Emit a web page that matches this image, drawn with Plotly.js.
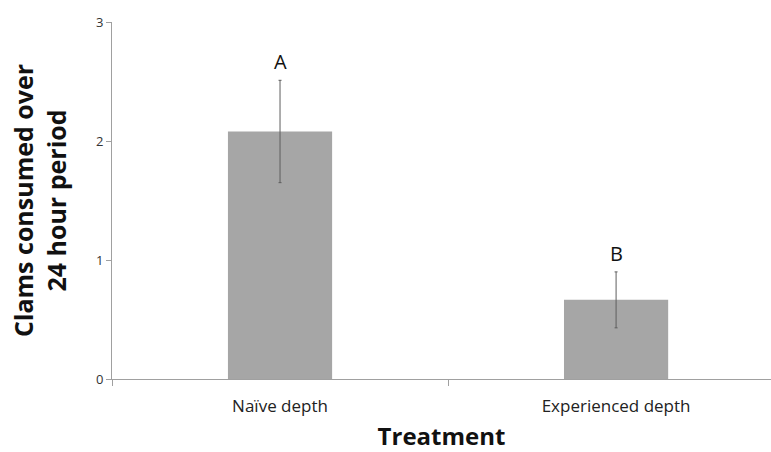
<!DOCTYPE html>
<html><head><meta charset="utf-8">
<script src="https://cdn.plot.ly/plotly-3.0.1.min.js"></script>
<style>html,body{margin:0;padding:0;overflow:hidden;background:#fff}</style>
</head><body>
<div id="chart" style="width:771px;height:452px"></div>
<script>
const categories = ["Naïve depth", "Experienced depth"];
const values = [2.08, 0.665];
const errors = [0.43, 0.235];
const letters = ["A", "B"];

const trace = {
  type: "bar",
  x: categories,
  y: values,
  width: 0.31,
  marker: {color: "#a6a6a6", line: {width: 0}},
  error_y: {type: "data", array: errors, visible: true, color: "#5e5e5e", thickness: 1, width: 1.5},
  hoverinfo: "skip"
};

const annotations = categories.map((c, i) => ({
  x: c, y: values[i] + errors[i], xref: "x", yref: "y",
  text: letters[i], showarrow: false, yanchor: "bottom", yshift: 3,
  font: {family: "Open Sans, Lato, sans-serif", size: 20, color: "#111"}
}));

const layout = {
  width: 771, height: 452,
  margin: {l: 112, r: 0, t: 22, b: 73},
  paper_bgcolor: "#fff", plot_bgcolor: "#fff",
  showlegend: false,
  xaxis: {
    type: "category", range: [-0.5, 1.461],
    showline: true, linecolor: "#a0a0a0", linewidth: 1,
    ticks: "outside", tickson: "boundaries", ticklen: 6, tickcolor: "#a0a0a0",
    ticklabelstandoff: 12,
    tickfont: {family: "Open Sans, Lato, sans-serif", size: 17, color: "#222"},
    showgrid: false, zeroline: false,
    title: {text: "<b>Treatment</b>", font: {family: "Open Sans, Lato, sans-serif", size: 24, color: "#111"}, standoff: 14}
  },
  yaxis: {
    range: [0, 3], tickvals: [0, 1, 2, 3],
    showline: true, linecolor: "#a0a0a0", linewidth: 1,
    ticks: "outside", ticklen: 5, tickcolor: "#a0a0a0",
    tickfont: {family: "Open Sans, Lato, sans-serif", size: 13, color: "#333"},
    showgrid: false, zeroline: false,
    title: {text: "<b>Clams consumed over<br>24 hour period</b>", font: {family: "Open Sans, Lato, sans-serif", size: 25, color: "#111"}, standoff: 22}
  },
  annotations: annotations
};

Plotly.newPlot("chart", [trace], layout, {staticPlot: true, displayModeBar: false});
</script>
</body></html>
